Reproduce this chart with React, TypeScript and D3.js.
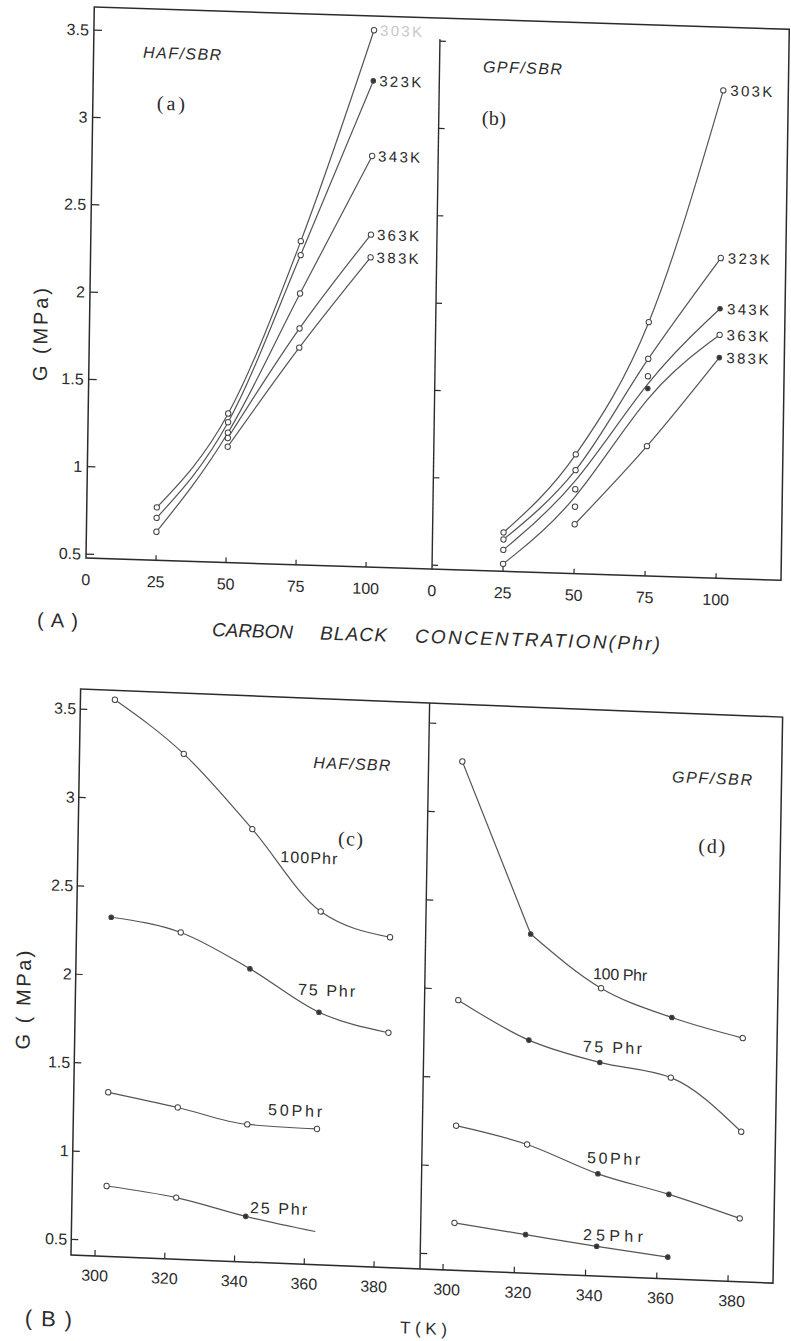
import React from 'react';
import * as d3 from 'd3';

const W = 791;
const H = 1341;

// Carbon black loading (phr) used in panels (a) and (b)
const loading = [25, 50, 75, 100];
const loadTicks = [0, 25, 50, 75, 100];
// Test temperatures (K) used in panels (c) and (d)
const temps = [303, 323, 343, 363, 383];
const tempTicks = [300, 320, 340, 360, 380];
const gTicks = [0.5, 1, 1.5, 2, 2.5, 3, 3.5];
const gTickText = ['0.5', '1', '1.5', '2', '2.5', '3', '3.5'];

const tempNames = ['303K', '323K', '343K', '363K', '383K'];

// (a) HAF/SBR: shear modulus G (MPa) against loading, one curve per temperature
const haf303K = [0.78, 1.33, 2.33, 3.55];
const haf323K = [0.72, 1.28, 2.25, 3.26];
const haf343K = [0.64, 1.22, 2.03, 2.83];
const haf363K = [null, 1.19, 1.83, 2.38];
const haf383K = [null, 1.14, 1.72, 2.25];

// (b) GPF/SBR
const gpf303K = [0.70, 1.16, 1.93, 3.27];
const gpf323K = [0.66, 1.07, 1.72, 2.31];
const gpf343K = [0.60, 0.96, 1.62, 2.02];
const gpf363K = [0.52, 0.86, 1.55, 1.87];
const gpf383K = [null, 0.76, 1.22, 1.74];

// (c) HAF/SBR: G (MPa) against temperature, one curve per loading
const haf100 = [3.56, 3.27, 2.86, 2.41, 2.28];
const haf75 = [2.33, 2.26, 2.07, 1.84, 1.74];
const haf50 = [1.34, 1.27, 1.19, 1.18, null];
const haf25 = [0.81, 0.76, 0.67, 0.60, null];

// (d) GPF/SBR
const gpf100 = [3.29, 2.33, 2.04, 1.89, 1.79];
const gpf75 = [1.94, 1.73, 1.62, 1.55, 1.26];
const gpf50 = [1.23, 1.14, 0.99, 0.89, 0.77];
const gpf25 = [0.68, 0.63, 0.58, 0.535, null];

// The two figure halves are drawn square and then sheared slightly, as on the printed sheet
const skewTop = 'matrix(1,0.032,-0.015,1,8.37,-2.72)';
const skewBottom = 'matrix(1,0.04,-0.017,1,21.32,-2.8)';

const INK = '#2b2b2b';
const CURVE = '#555';
const SANS = '"Liberation Sans", Arial, sans-serif';
const SERIF = '"Liberation Serif", "Times New Roman", serif';

// scales for the upper figure
const yTop = d3.scaleLinear().domain([0.5, 3.5]).range([554, 30]);
const xA = d3.scaleLinear().domain([0, 100]).range([86, 366]);
const xB = d3.scaleLinear().domain([0, 100]).range([432, 716]);
// scales for the lower figure
const yBot = d3.scaleLinear().domain([0.5, 3.5]).range([1239.4, 709]);
const xC = d3.scaleLinear().domain([300, 380]).range([95, 374]);
const xD = d3.scaleLinear().domain([300, 380]).range([443, 728]);

type Num = number | null;
type Pt = { x: number; y: number; i: number };

function Curve({ xs, ys, sx, sy, solid = [], bare = [], smooth = 'monotone', kink = 0 }: {
  xs: number[]; ys: Num[]; sx: (v: number) => number; sy: (v: number) => number;
  solid?: number[]; bare?: number[]; smooth?: 'monotone' | 'basis'; kink?: number;
}) {
  const pts = xs
    .map((x, i) => ({ x, y: ys[i], i }))
    .filter((p) => p.y !== null) as Pt[];
  const curve = smooth === 'basis' ? d3.curveBasis : d3.curveMonotoneX;
  const line = d3.line<Pt>().x((p) => sx(p.x)).y((p) => sy(p.y));
  // optional straight run up to a break point, then a smooth curve after it
  const straight = kink > 0 ? line.curve(d3.curveLinear)(pts.slice(0, kink + 1)) : '';
  const rest = line.curve(curve)(pts.slice(kink)) || '';
  return (
    <g>
      {straight && <path d={straight} fill="none" stroke={CURVE} strokeWidth={1.2} />}
      <path d={rest} fill="none" stroke={CURVE} strokeWidth={1.2} />
      {pts
        .filter((p) => !bare.includes(p.i))
        .map((p) => (
          <circle
            key={p.i}
            cx={sx(p.x)}
            cy={sy(p.y)}
            r={solid.includes(p.i) ? 2.3 : 2.7}
            fill={solid.includes(p.i) ? '#333' : '#fff'}
            stroke="#444"
            strokeWidth={1}
          />
        ))}
    </g>
  );
}

function Label({ x, y, text, size = 16, len, italic = false, family = SANS, anchor = 'start', fill = INK, dy = 0 }: {
  x: number; y: number; text: string; size?: number; len?: number; italic?: boolean;
  family?: string; anchor?: string; fill?: string; dy?: number | string;
}) {
  return (
    <text
      x={x}
      y={y}
      dy={dy}
      fontFamily={family}
      fontSize={size}
      fontStyle={italic ? 'italic' : 'normal'}
      textAnchor={anchor as any}
      fill={fill}
      textLength={len}
      lengthAdjust={len ? 'spacing' : undefined}
    >
      {text}
    </text>
  );
}

function TopFigure() {
  const L = 86, R = 781, T = 7, B = 558;
  const hafSeries = [haf303K, haf323K, haf343K, haf363K, haf383K];
  const gpfSeries = [gpf303K, gpf323K, gpf343K, gpf363K, gpf383K];
  const hafSolid = [[], [3], [], [], []];
  const gpfSolid = [[], [], [3], [2], [3]];
  const gpfSmooth: ('monotone' | 'basis')[] = ['monotone', 'monotone', 'basis', 'basis', 'monotone'];
  return (
    <g transform={skewTop}>
      {/* frame */}
      <path d={`M${L},${B}V${T}H${R}V${B}Z`} fill="none" stroke={INK} strokeWidth={1.5} />
      <line x1={xB(0)} x2={xB(0)} y1={28} y2={B} stroke={INK} strokeWidth={1.4} />

      {/* y ticks */}
      {gTicks.map((t, i) => (
        <g key={t}>
          <line x1={L} x2={L + 8} y1={yTop(t)} y2={yTop(t)} stroke={INK} strokeWidth={1.2} />
          <line x1={xB(0)} x2={xB(0) + 6} y1={yTop(t)} y2={yTop(t)} stroke={INK} strokeWidth={1.2} />
          <Label x={L - 5} y={yTop(t)} dy="0.35em" text={gTickText[i]} size={16} anchor="end" />
        </g>
      ))}

      {/* x ticks */}
      {loadTicks.map((t) => (
        <g key={t}>
          {t > 0 && <line x1={xA(t)} x2={xA(t)} y1={B} y2={B - 5} stroke={INK} strokeWidth={1.2} />}
          {t > 0 && <line x1={xB(t)} x2={xB(t)} y1={B} y2={B - 5} stroke={INK} strokeWidth={1.2} />}
          <Label x={xA(t)} y={585} text={String(t)} size={16} anchor="middle" />
          <Label x={xB(t)} y={585} text={String(t)} size={16} anchor="middle" />
        </g>
      ))}

      {/* curves */}
      {hafSeries.map((s, k) => (
        <Curve key={'a' + k} xs={loading} ys={s} sx={xA} sy={yTop} solid={hafSolid[k]} />
      ))}
      {gpfSeries.map((s, k) => (
        <Curve key={'b' + k} xs={loading} ys={s} sx={xB} sy={yTop} solid={gpfSolid[k]} smooth={gpfSmooth[k]} />
      ))}

      {/* temperature labels at the curve ends */}
      {hafSeries.map((s, k) => (
        <Label
          key={'la' + k}
          x={xA(100) + 6}
          y={yTop(s[3] as number)}
          dy="0.35em"
          text={tempNames[k]}
          size={15}
          len={42}
          fill={k === 0 ? '#c8c8c8' : INK}
        />
      ))}
      {gpfSeries.map((s, k) => (
        <Label key={'lb' + k} x={xB(100) + 7} y={yTop(s[3] as number)} dy="0.35em" text={tempNames[k]} size={15} len={42} />
      ))}

      {/* panel captions */}
      <Label x={xA(17.7)} y={yTop(3.35)} text="HAF/SBR" italic size={16} len={78} />
      <Label x={xA(22.9)} y={yTop(3.055)} text="(a)" family={SERIF} size={20} len={28} />
      <Label x={xB(15.3)} y={yTop(3.33)} text="GPF/SBR" italic size={16} len={79} />
      <Label x={xB(15.2)} y={yTop(3.03)} text="(b)" family={SERIF} size={20} len={24} />

      {/* axis titles */}
      <text
        transform="translate(37,336) rotate(-90)"
        textAnchor="middle"
        dy="0.35em"
        fontFamily={SANS}
        fontSize={20}
        fill={INK}
        textLength={93}
        lengthAdjust="spacing"
      >
        G (MPa)
      </text>
      <Label x={38} y={628} text="(A)" size={20} len={41} />
      <Label x={213} y={632} text="CARBON" italic size={19} len={81} />
      <Label x={321} y={632} text="BLACK" italic size={19} len={67} />
      <Label x={416} y={632} text="CONCENTRATION(Phr)" italic size={19} len={245} />
    </g>
  );
}

function BottomFigure() {
  const L = 71, R = 773, T = 689, B = 1255, MID = 420;
  const cSeries = [haf100, haf75, haf50, haf25];
  const dSeries = [gpf100, gpf75, gpf50, gpf25];
  const cSolid = [[], [0, 2, 3], [], [2]];
  const dSolid = [[1, 3], [1, 2], [2, 3], [1, 2, 3]];
  return (
    <g transform={skewBottom}>
      <path d={`M${L},${B}V${T}H${R}V${B}Z`} fill="none" stroke={INK} strokeWidth={1.5} />
      <line x1={MID} x2={MID} y1={T} y2={B} stroke={INK} strokeWidth={1.4} />

      {gTicks.map((t, i) => (
        <g key={t}>
          <line x1={L} x2={L + 7} y1={yBot(t)} y2={yBot(t)} stroke={INK} strokeWidth={1.2} />
          <line x1={MID} x2={MID + 7} y1={yBot(t)} y2={yBot(t)} stroke={INK} strokeWidth={1.2} />
          <Label x={L - 4} y={yBot(t)} dy="0.35em" text={gTickText[i]} size={16} anchor="end" />
        </g>
      ))}

      {tempTicks.map((t) => (
        <g key={t}>
          <line x1={xC(t)} x2={xC(t)} y1={B} y2={B - 6} stroke={INK} strokeWidth={1.2} />
          <line x1={xD(t)} x2={xD(t)} y1={B} y2={B - 6} stroke={INK} strokeWidth={1.2} />
          <Label x={xC(t)} y={1280} text={String(t)} size={16} anchor="middle" />
          <Label x={xD(t) + 4} y={1280} text={String(t)} size={16} anchor="middle" />
        </g>
      ))}

      {cSeries.map((s, k) => (
        <Curve key={'c' + k} xs={temps} ys={s} sx={xC} sy={yBot} solid={cSolid[k]} bare={k === 3 ? [3] : []} />
      ))}
      {dSeries.map((s, k) => (
        <Curve key={'d' + k} xs={temps} ys={s} sx={xD} sy={yBot} solid={dSolid[k]} kink={k === 0 ? 1 : 0} />
      ))}

      {/* loading labels, panel (c) */}
      <Label x={xC(351.2)} y={yBot(2.68)} text="100Phr" size={16} len={57} />
      <Label x={xC(356.9)} y={yBot(1.934)} text="75 Phr" size={16} len={57} />
      <Label x={xC(348.9)} y={yBot(1.248)} text="50Phr" size={16} len={54} />
      <Label x={xC(344.2)} y={yBot(0.69)} text="25 Phr" size={16} len={57} />
      <Label x={xC(360.2)} y={yBot(3.22)} text="HAF/SBR" italic size={16} len={77} />
      <Label x={xC(367.6)} y={yBot(2.79)} text="(c)" family={SERIF} size={20} len={25} />

      {/* loading labels, panel (d) */}
      <Label x={xD(340.7)} y={yBot(2.09)} text="100 Phr" size={16} len={54} />
      <Label x={xD(338.2)} y={yBot(1.676)} text="75 Phr" size={16} len={59} />
      <Label x={xD(339.9)} y={yBot(1.049)} text="50Phr" size={16} len={53} />
      <Label x={xD(339.1)} y={yBot(0.613)} text="25Phr" size={16} len={60} />
      <Label x={xD(361.9)} y={yBot(3.22)} text="GPF/SBR" italic size={16} len={80} />
      <Label x={xD(369.6)} y={yBot(2.83)} text="(d)" family={SERIF} size={20} len={27} />

      <text
        transform="translate(19,1002) rotate(-90)"
        textAnchor="middle"
        dy="0.35em"
        fontFamily={SANS}
        fontSize={20}
        fill={INK}
        textLength={99}
        lengthAdjust="spacing"
      >
        G ( MPa)
      </text>
      <Label x={26} y={1327} text="(B)" size={22} len={47} />
      <Label x={401} y={1320} text="T(K)" size={17} len={47} />
    </g>
  );
}

export default function App() {
  return (
    <svg
      width={W}
      height={H}
      viewBox={`0 0 ${W} ${H}`}
      style={{ position: 'absolute', left: 0, top: 0, background: '#fff' }}
    >
      <rect width={W} height={H} fill="#fff" />
      <TopFigure />
      <BottomFigure />
    </svg>
  );
}
